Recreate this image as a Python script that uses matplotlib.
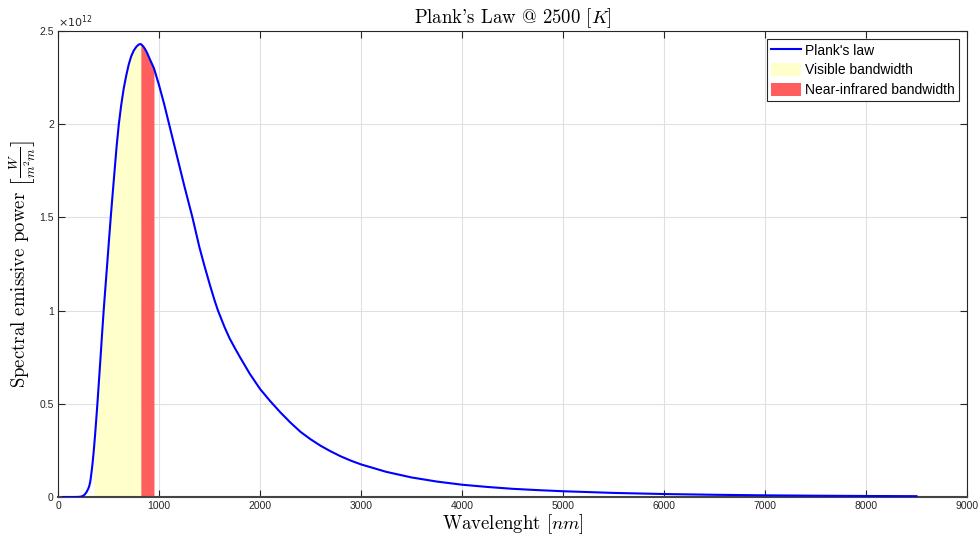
import numpy as np
import matplotlib
matplotlib.use("Agg")
import matplotlib.pyplot as plt
from matplotlib.ticker import FuncFormatter

# wavelength [nm] and spectral emissive power [x1e12 W/m^2/m]
wavelength = [50, 100, 150, 200, 220, 240, 260, 280, 300, 310, 320, 330, 340, 350, 355,
              365, 375, 390, 405, 420, 435, 452, 470, 487, 505, 522, 540, 560, 580, 602,
              625, 650, 675, 700, 725, 750, 775, 800, 820, 840, 860, 880, 900, 925, 950,
              975, 1000, 1025, 1050, 1075, 1100, 1150, 1200, 1250, 1300, 1331, 1400,
              1450, 1500, 1550, 1584, 1650, 1700, 1750, 1800, 1900, 2000, 2100, 2200,
              2300, 2400, 2500, 2600, 2700, 2800, 2900, 3000, 3250, 3500, 3750, 4000,
              4250, 4500, 4750, 5000, 5500, 6000, 6500, 7000, 7500, 8000, 8500]
power = [0.0, 0.0, 0.0, 0.0005, 0.0015, 0.004, 0.011, 0.024, 0.045, 0.06, 0.085, 0.125,
         0.17, 0.225, 0.255, 0.32, 0.39, 0.5, 0.62, 0.74, 0.865, 1.0, 1.13, 1.25, 1.38,
         1.5, 1.62, 1.75, 1.88, 2.0, 2.1, 2.19, 2.26, 2.32, 2.365, 2.395, 2.415, 2.428,
         2.43, 2.42, 2.405, 2.385, 2.36, 2.33, 2.30, 2.255, 2.21, 2.16, 2.11, 2.055,
         2.0, 1.89, 1.78, 1.67, 1.565, 1.5, 1.34, 1.24, 1.145, 1.055, 1.0, 0.91, 0.85,
         0.80, 0.752, 0.66, 0.58, 0.515, 0.455, 0.40, 0.35, 0.31, 0.275, 0.245, 0.218,
         0.195, 0.175, 0.135, 0.105, 0.083, 0.066, 0.054, 0.044, 0.037, 0.031, 0.022,
         0.016, 0.012, 0.009, 0.007, 0.0055, 0.0045]

visible_band = (355, 820)
nir_band = (820, 950)

plt.rcParams['mathtext.fontset'] = 'cm'
plt.rcParams['axes.unicode_minus'] = False
serif = ['cmr10', 'DejaVu Serif']
sans = ['Liberation Sans', 'DejaVu Sans']

lam = np.array(wavelength)
p = np.array(power)

fig = plt.figure(figsize=(9.8, 5.42), dpi=100)
ax = fig.add_axes([0.0592, 0.083, 0.9275, 0.8598])

vis = (lam >= visible_band[0]) & (lam <= visible_band[1])
nir = (lam >= nir_band[0]) & (lam <= nir_band[1])
ax.fill_between(lam[vis], 0, p[vis], color='#FFFFCC', linewidth=0,
                label='Visible bandwidth', zorder=2)
ax.fill_between(lam[nir], 0, p[nir], color='#FF5E5E', linewidth=0,
                label='Near-infrared bandwidth', zorder=2)
ax.plot(lam, p, color='#0000FF', lw=1.5, label="Plank's law", zorder=3)

ax.set_xlim(0, 9000)
ax.set_ylim(0, 2.5)
ax.set_xticks(np.arange(0, 9001, 1000))
ax.set_yticks(np.arange(0, 2.51, 0.5))
ax.yaxis.set_major_formatter(FuncFormatter(lambda v, _: '%g' % v))
ax.grid(True, color='#E0E0E0', lw=0.8, zorder=0)
ax.set_axisbelow(True)
ax.tick_params(direction='in', length=5, width=0.8, top=True, right=True,
               labelsize=7.5, colors='#262626', pad=3)
for lab in ax.get_xticklabels() + ax.get_yticklabels():
    lab.set_family(sans)
for s in ax.spines.values():
    s.set_color('#262626')
    s.set_linewidth(0.8)
ax.spines['bottom'].set_linewidth(1.5)
ax.spines['bottom'].set_color('#444444')

ax.text(0.0, 1.003, r'$\times10^{12}$', transform=ax.transAxes, fontsize=8,
        color='#262626', ha='left', va='bottom', family=sans,
        math_fontfamily='dejavusans')

ax.set_title("Plank's Law @ 2500 $[K]$", family=serif, fontsize=13.5, pad=6)
ax.set_xlabel('Wavelenght $[nm]$', family=serif, fontsize=13.5, labelpad=1)
ax.set_ylabel(r'Spectral emissive power $\left[\frac{W}{m^2m}\right]$',
              family=serif, fontsize=13.5, labelpad=0)

handles, labels = ax.get_legend_handles_labels()
order = [2, 0, 1]
leg = ax.legend([handles[i] for i in order], [labels[i] for i in order],
                loc='upper right', fancybox=False, framealpha=1, edgecolor='#262626',
                prop={'family': sans, 'size': 10}, borderaxespad=0.6,
                handlelength=2.2, handleheight=1.05, labelspacing=0.4,
                borderpad=0.3, handletextpad=0.25)
leg.get_frame().set_linewidth(0.8)

fig.savefig('out.png', dpi=100)
